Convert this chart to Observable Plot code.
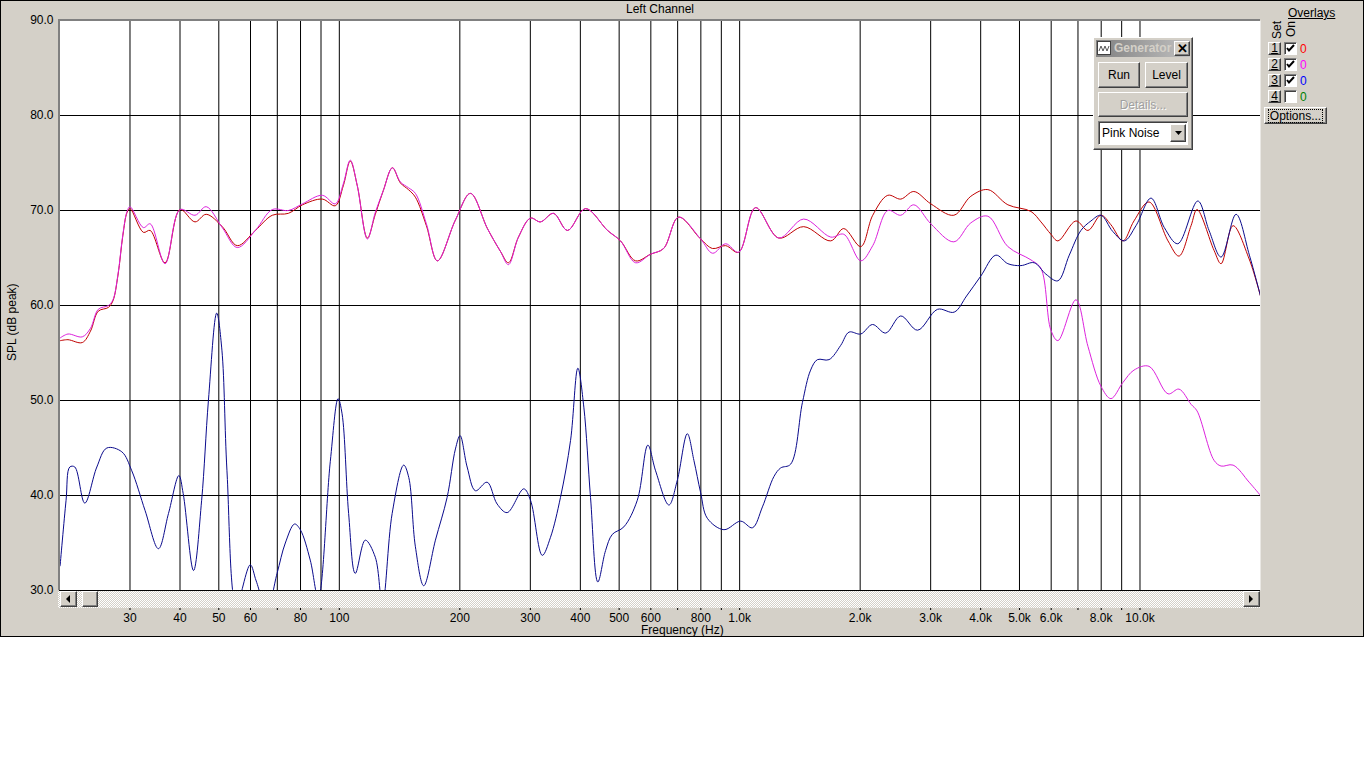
<!DOCTYPE html>
<html>
<head>
<meta charset="utf-8">
<script src="https://cdn.jsdelivr.net/npm/d3@7"></script>
<script src="https://cdn.jsdelivr.net/npm/@observablehq/plot@0.6"></script>
<style>
  body { margin: 0; background: #fff; font-family: "Liberation Sans", Arial, sans-serif; font-size: 12px; color: #000; }
  .abs { position: absolute; }
  #win { position: absolute; left: 0; top: 0; width: 1364px; height: 637px; box-sizing: border-box; border: 1px solid #000; background: #d4d0c8; }
  .raised { box-sizing: border-box; background: #d4d0c8; border-top: 1px solid #fff; border-left: 1px solid #fff; border-right: 1px solid #404040; border-bottom: 1px solid #404040; box-shadow: inset -1px -1px 0 #808080; }
  .sunken { box-sizing: border-box; background: #fff; border-top: 1px solid #808080; border-left: 1px solid #808080; border-right: 1px solid #fff; border-bottom: 1px solid #fff; box-shadow: inset 1px 1px 0 #404040; }
  .btn { display: flex; align-items: center; justify-content: center; }
  .rot { writing-mode: vertical-rl; transform: rotate(180deg); }
  #chart svg { overflow: visible; }
</style>
</head>
<body>
<div id="win"></div>
<div id="chart" class="abs" style="left:0;top:0"></div>

<script>
// ---- Frequencies (Hz) shared by overlays 1 and 2
const freqA = [20.1, 21.0, 22.8, 23.9, 25.0, 26.5, 27.2, 28.0, 28.8, 29.5, 30.0, 32.4, 33.7, 36.7, 40.0, 43.6, 46.5, 51.0, 55.6, 61.7,
  68.0, 74.6, 80.9, 90.7, 97.7, 102.3, 106.5, 110.9, 117.5, 123.0, 128.8, 135.7, 142.1, 148.8, 154.9, 165.0, 175.8, 195.0, 212.6, 234.4,
  252.6, 264.5, 280.2, 300.3, 318.0, 342.8, 371.5, 412.0, 467.7, 504.0, 549.5, 599.0, 645.7, 704.0, 799.0, 856.0, 922.6, 994.0, 1096, 1252,
  1445, 1689, 1820, 2007, 2150, 2344, 2526, 2723, 3003, 3428, 3780, 4169, 4677, 5341, 5657, 5991, 6237, 6918, 7413, 7989,
  8461, 9066, 9660, 10532, 11749, 12515, 13413, 13885, 15311, 15942, 17081, 18734, 20000];
// ---- Overlay 1 (red), dB
const redDb = [56.3, 56.4, 56.1, 57.3, 59.4, 59.8, 60.5, 63.2, 67.4, 69.8, 70.2, 67.7, 67.9, 64.5, 70.1, 68.8, 69.6, 68.3, 66.3, 67.9,
  69.5, 69.7, 70.6, 71.2, 70.5, 72.6, 75.2, 72.6, 67.1, 69.6, 72.1, 74.5, 72.9, 72.2, 71.4, 68.4, 64.7, 69.0, 71.8, 68.1,
  65.7, 64.5, 67.2, 69.2, 68.8, 69.7, 67.9, 70.2, 67.9, 66.8, 64.7, 65.4, 66.0, 69.3, 67.0, 66.0, 66.3, 65.6, 70.3, 67.1,
  68.3, 66.8, 68.1, 66.2, 69.5, 71.6, 71.2, 72.0, 70.7, 69.5, 71.5, 72.2, 70.6, 69.9, 68.8, 67.5, 66.8, 68.9, 67.9, 69.5,
  68.5, 66.8, 68.9, 70.9, 66.8, 65.2, 68.4, 70.1, 65.8, 64.4, 68.4, 64.9, 61.0];
// ---- Overlay 2 (magenta), dB
const magentaDb = [56.6, 57.0, 56.7, 57.6, 59.6, 60.0, 60.6, 63.3, 67.5, 69.9, 70.4, 68.2, 68.6, 64.4, 70.1, 69.5, 70.4, 68.2, 66.1, 67.9,
  70.1, 70.0, 70.7, 71.6, 70.7, 72.8, 75.3, 72.6, 67.0, 69.8, 72.1, 74.5, 73.0, 72.4, 71.8, 68.6, 64.7, 69.0, 71.8, 68.1,
  65.7, 64.3, 67.2, 69.2, 68.8, 69.7, 67.9, 70.2, 67.9, 66.8, 64.5, 65.4, 66.0, 69.3, 67.0, 65.5, 66.5, 65.6, 70.3, 67.1,
  69.1, 67.2, 67.5, 64.7, 66.3, 70.0, 69.5, 70.6, 68.6, 66.7, 68.7, 69.4, 66.2, 64.8, 63.9, 57.4, 56.3, 60.6, 55.7, 51.5,
  50.2, 51.9, 53.2, 53.6, 50.7, 51.2, 49.6, 48.9, 43.7, 43.1, 43.2, 41.4, 40.0];
// ---- Overlay 3 (blue)
const freqB = [20.07, 20.77, 21.22, 21.84, 23.13, 24.79, 26.26, 28.62, 30.31, 32.73, 35.33, 37.43, 39.74, 40.74, 43.23, 45.3, 47.1, 49.4, 50.9, 52.4,
  55.3, 59.9, 62.0, 65.96, 69.9, 73.3, 77.3, 79.9, 84.6, 88.6, 94.95, 99.3, 101.6, 105.5, 109.6, 116.1, 123.0, 128.1, 135.5, 144.8,
  149.1, 154.9, 162.5, 173.8, 185.9, 195.0, 200.3, 208.6, 218.8, 234.0, 247.9, 262.6, 288.9, 300.3, 321.3, 336.9, 356.8, 378.1, 394.3, 408.1,
  424.1, 442.3, 462.4, 480.6, 513.8, 555.0, 589.8, 616.6, 665.7, 698.6, 740.0, 768.6, 799.0, 830.4, 913.6, 1006, 1076, 1140, 1218, 1266,
  1341, 1435, 1504, 1564, 1672, 1788, 1876, 2007, 2147, 2317, 2526, 2782, 3121, 3434, 3688, 4003, 4365, 4677, 5041, 5442,
  5821, 6237, 6658, 7120, 7543, 7989, 8548, 9138, 9772, 10654, 11502, 12428, 13945, 14877, 15942, 17378, 18762, 20000];
const blueDb = [32.6, 39.5, 43.0, 43.0, 39.2, 43.0, 45.0, 44.6, 42.6, 38.4, 34.4, 38.1, 42.1, 40.2, 32.1, 39.5, 50.0, 59.2, 55.3, 42.6,
  28.5, 32.7, 31.0, 28.0, 31.8, 35.0, 37.0, 36.4, 33.2, 29.2, 43.6, 50.2, 48.6, 38.1, 31.8, 35.3, 33.5, 28.5, 38.1, 43.2,
  41.9, 34.6, 30.5, 35.3, 39.8, 44.9, 46.3, 43.0, 40.5, 41.4, 39.1, 38.2, 40.7, 39.5, 33.7, 35.6, 39.8, 45.8, 53.4, 49.3,
  39.8, 30.9, 34.2, 35.9, 36.7, 39.5, 45.3, 42.6, 39.0, 41.6, 46.5, 43.7, 40.3, 37.6, 36.4, 37.3, 36.6, 38.8, 42.0, 42.9,
  43.3, 49.8, 53.2, 54.3, 54.3, 55.8, 57.2, 57.0, 58.0, 57.1, 58.9, 57.4, 59.6, 59.3, 61.0, 63.1, 65.3, 64.4, 64.2, 64.5,
  63.3, 62.6, 65.3, 67.9, 68.9, 69.5, 67.8, 66.8, 68.4, 71.3, 68.2, 66.5, 71.0, 67.9, 65.1, 69.6, 65.3, 61.0];

// ---- Axes
const gridFreqs = [30, 40, 50, 60, 70, 80, 90, 100, 200, 300, 400, 500, 600, 700, 800, 900,
  1000, 2000, 3000, 4000, 5000, 6000, 7000, 8000, 9000, 10000];
const tickLabels = ["30", "40", "50", "60", "", "80", "", "100", "200", "300", "400", "500", "600", "", "800", "",
  "1.0k", "2.0k", "3.0k", "4.0k", "5.0k", "6.0k", "", "8.0k", "", "10.0k"];
const levels = [30, 40, 50, 60, 70, 80, 90];

const overlayNames = ["1", "2", "3", "4"];
const overlayOn = [true, true, true, false];
const overlayColors = ["#ff0000", "#ff00ff", "#0000ff", "#008000"];
const lineColors = ["#c00000", "#dd22dd", "#0a0a8c"];

const labelOf = new Map(gridFreqs.map((f, i) => [f, tickLabels[i]]));
const rows = (fs, vs) => fs.map((f, i) => ({f, db: vs[i]}));

const chart = Plot.plot({
  width: 1262,
  height: 636,
  marginLeft: 59,
  marginRight: 2,
  marginTop: 20,
  marginBottom: 46,
  style: {background: "transparent", fontFamily: "'Liberation Sans', Arial, sans-serif", fontSize: "12px", color: "#000"},
  x: {type: "log", domain: [20, 20000]},
  y: {domain: [30, 90]},
  marks: [
    Plot.frame({fill: "#fff", stroke: null}),
    Plot.ruleX(gridFreqs, {stroke: "#000", strokeWidth: 1}),
    Plot.ruleY(levels, {stroke: "#000", strokeWidth: 1}),
    Plot.line(rows(freqA, redDb), {x: "f", y: "db", stroke: lineColors[0], strokeWidth: 1, curve: "catmull-rom", clip: true}),
    Plot.line(rows(freqA, magentaDb), {x: "f", y: "db", stroke: lineColors[1], strokeWidth: 1, curve: "catmull-rom", clip: true}),
    Plot.line(rows(freqB, blueDb), {x: "f", y: "db", stroke: lineColors[2], strokeWidth: 1, curve: "catmull-rom", clip: true}),
    Plot.axisY(levels, {tickSize: 0, tickPadding: 6, tickFormat: d => d.toFixed(1), fontSize: 12, label: null}),
    Plot.axisX(gridFreqs, {tickSize: 3, dy: 17, tickFormat: () => "", label: null}),
    Plot.text(gridFreqs, {x: d => d, text: d => labelOf.get(d), frameAnchor: "bottom", lineAnchor: "top", dy: 23, fontSize: 12, fill: "#000"})
  ]
});
document.getElementById("chart").appendChild(chart);

// ---- Window chrome (HTML)
function el(html) { const d = document.createElement("div"); d.innerHTML = html; while (d.firstChild) document.body.appendChild(d.firstChild); }

el(`<div class="abs" style="left:0;top:2px;width:1320px;text-align:center">Left Channel</div>`);
el(`<div class="abs" style="left:58px;top:19px;width:1202px;height:571px;box-sizing:border-box;border-top:2px solid #808080;border-left:2px solid #808080;pointer-events:none"></div>`);
el(`<div class="abs rot" style="left:4px;top:282px;height:80px;width:16px;text-align:center;line-height:16px">SPL (dB peak)</div>`);
el(`<div class="abs" style="left:641px;top:623px">Frequency (Hz)</div>`);

// scroll bar
el(`<div class="abs" style="left:58px;top:591px;width:1202px;height:17px;background:repeating-conic-gradient(#fff 0 25%, #d4d0c8 0 50%) 0 0/2px 2px"></div>`);
el(`<div class="abs raised btn" style="left:60px;top:591px;width:17px;height:16px"><svg width="5" height="8"><path d="M4 0 L0 4 L4 8 Z" fill="#000"/></svg></div>`);
el(`<div class="abs raised" style="left:82px;top:591px;width:16px;height:16px"></div>`);
el(`<div class="abs raised btn" style="left:1243px;top:591px;width:17px;height:16px"><svg width="5" height="8"><path d="M0 0 L4 4 L0 8 Z" fill="#000"/></svg></div>`);

// generator window
el(`<div class="abs raised" style="left:1093px;top:37px;width:100px;height:113px"></div>`);
el(`<div class="abs" style="left:1096px;top:40px;width:94px;height:17px;background:linear-gradient(90deg,#808080,#c0c0c0)"></div>`);
el(`<div class="abs" style="left:1097px;top:41px;width:14px;height:14px;background:#fff;border:1px solid #404040;box-sizing:border-box"><svg width="12" height="12" style="display:block"><path d="M1 9 L3 4 L5 9 L7 4 L9 9 L11 4" stroke="#555" fill="none" stroke-width="1"/></svg></div>`);
el(`<div class="abs" style="left:1114px;top:41px;font-weight:bold;color:#d4d0c8;line-height:15px">Generator</div>`);
el(`<div class="abs raised btn" style="left:1174px;top:41px;width:16px;height:15px;font-weight:bold;font-size:13px;line-height:13px">✕</div>`);
el(`<div class="abs raised btn" style="left:1098px;top:62px;width:42px;height:26px">Run</div>`);
el(`<div class="abs raised btn" style="left:1145px;top:62px;width:43px;height:26px">Level</div>`);
el(`<div class="abs raised btn" style="left:1098px;top:92px;width:90px;height:25px;color:#a0a0a0;text-shadow:1px 1px 0 #fff">Details...</div>`);
el(`<div class="abs sunken" style="left:1098px;top:121px;width:90px;height:24px"></div>`);
el(`<div class="abs" style="left:1102px;top:126px">Pink Noise</div>`);
el(`<div class="abs raised btn" style="left:1170px;top:124px;width:16px;height:18px"><svg width="7" height="4"><path d="M0 0 L7 0 L3.5 4 Z" fill="#000"/></svg></div>`);

// overlays panel
el(`<div class="abs" style="left:1288px;top:6px;text-decoration:underline">Overlays</div>`);
el(`<div class="abs rot" style="left:1271px;top:19px;width:12px;height:20px;line-height:12px">Set</div>`);
el(`<div class="abs rot" style="left:1285px;top:21px;width:12px;height:16px;line-height:12px">On</div>`);
overlayNames.forEach((n, i) => {
  const top = 42 + i * 16;
  el(`<div class="abs raised btn" style="left:1268px;top:${top}px;width:13px;height:13px;text-decoration:underline;line-height:11px">${n}</div>`);
  el(`<div class="abs sunken" style="left:1284px;top:${top}px;width:13px;height:13px">${overlayOn[i] ? '<svg width="11" height="11" style="display:block"><path d="M2 5 L4 7.5 L9 2" stroke="#000" stroke-width="2" fill="none"/></svg>' : ''}</div>`);
  el(`<div class="abs" style="left:1300px;top:${top}px;line-height:14px;color:${overlayColors[i]}">0</div>`);
});
el(`<div class="abs raised btn" style="left:1264px;top:107px;width:63px;height:17px"><span style="outline:1px dotted #000;padding:0 1px;line-height:12px">Options...</span></div>`);
</script>
</body>
</html>
